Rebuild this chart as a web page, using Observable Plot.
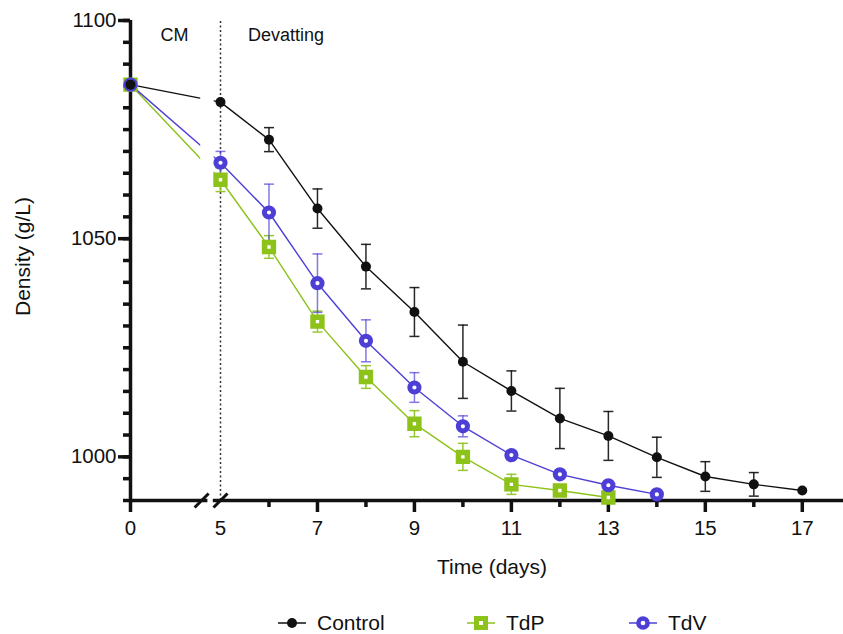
<!DOCTYPE html>
<html><head><meta charset="utf-8">
<script src="https://cdn.jsdelivr.net/npm/d3@7"></script>
<script src="https://cdn.jsdelivr.net/npm/@observablehq/plot@0.6"></script>
<style>
body{margin:0;background:#fff;font-family:"Liberation Sans",Arial,sans-serif;}
#legend{position:relative;width:843px;height:50px;}
.item{position:absolute;top:11px;height:44px;display:flex;align-items:center;font-size:21px;color:#111;}
.item svg{margin-right:11px;}
</style></head><body>
<div id="chart"></div><div id="legend"></div>
<script>
// ---- data ----
const seriesNames = ["Control", "TdP", "TdV"];
const seriesColors = ["#111111", "#8cc21a", "#4d3fd6"];

const controlDays = [0, 5, 6, 7, 8, 9, 10, 11, 12, 13, 14, 15, 16, 17];
const controlMean = [1085.3, 1081.3, 1072.7, 1056.9, 1043.6, 1033.2, 1021.8, 1015.1, 1008.8, 1004.8, 999.9, 995.5, 993.7, 992.3];
const controlSD   = [0, 0, 2.75, 4.5, 5.1, 5.6, 8.4, 4.6, 6.9, 5.6, 4.6, 3.4, 2.7, 0];

const tdpDays = [0, 5, 6, 7, 8, 9, 10, 11, 12, 13];
const tdpMean = [1085.3, 1063.5, 1048.1, 1031.0, 1018.3, 1007.6, 1000.0, 993.7, 992.3, 990.7];
const tdpSD   = [0, 2.7, 2.6, 2.4, 2.6, 3.0, 3.1, 2.3, 1.0, 0.5];

const tdvDays = [0, 5, 6, 7, 8, 9, 10, 11, 12, 13, 14];
const tdvMean = [1085.3, 1067.4, 1056.0, 1039.8, 1026.6, 1015.9, 1007.0, 1000.4, 996.0, 993.5, 991.4];
const tdvSD   = [0, 2.6, 6.5, 6.7, 4.8, 3.4, 2.4, 1.0, 0.8, 0.6, 0.5];

const xMajorTicks = [0, 7, 9, 11, 13, 15, 17];
const xMinorTicks = [6, 8, 10, 12, 14, 16];
const xTickLabels = [0, 5, 7, 9, 11, 13, 15, 17];
const yTickLabels = [1000, 1050, 1100];
const yMinorTicks = d3.range(990, 1101, 5);
const phaseLabels = ["CM", "Devatting"];

// ---- build table ----
function rowsOf(name, days, mean, sd) {
  return days.map((d, i) => ({series: name, day: d, mean: mean[i], sd: sd[i]}));
}
const rows = [
  ...rowsOf("Control", controlDays, controlMean, controlSD),
  ...rowsOf("TdP", tdpDays, tdpMean, tdpSD),
  ...rowsOf("TdV", tdvDays, tdvMean, tdvSD)
];
const Y_MIN = 990, Y_MAX = 1100, X_END = 17.85;
const LINE_GAP = [3.9, 4.65];
const AXIS_GAP = [4.3, 4.6];
const SLASHES = [3.95, 5.0];

const capSymbol = {draw(ctx, size) {const r = Math.sqrt(size / Math.PI); ctx.moveTo(-r, 0); ctx.lineTo(r, 0);}};
const slashSymbol = {draw(ctx, size) {const r = Math.sqrt(size / Math.PI); ctx.moveTo(-r, r); ctx.lineTo(r, -r);}};

const colorOf = Object.fromEntries(seriesNames.map((s, i) => [s, seriesColors[i]]));
const bars = rows.filter(d => d.sd > 0);

function errMarks(name, opacity) {
  const data = bars.filter(d => d.series === name);
  const c = colorOf[name];
  return [
    Plot.ruleX(data, {x: "day", y1: d => d.mean - d.sd, y2: d => d.mean + d.sd, stroke: c, strokeWidth: 1.5, strokeOpacity: opacity}),
    Plot.dot(data, {x: "day", y: d => d.mean + d.sd, symbol: capSymbol, r: 5, stroke: c, strokeWidth: 1.5, strokeOpacity: opacity, fill: "none"}),
    Plot.dot(data, {x: "day", y: d => d.mean - d.sd, symbol: capSymbol, r: 5, stroke: c, strokeWidth: 1.5, strokeOpacity: opacity, fill: "none"})
  ];
}

const AX = {stroke: "#111", strokeWidth: 3.5};

const chart = Plot.plot({
  width: 843,
  height: 590,
  marginLeft: 130,
  marginRight: 0,
  marginTop: 20,
  marginBottom: 90,
  style: {fontFamily: "Liberation Sans, Arial, sans-serif", color: "#111", background: "#fff"},
  x: {type: "linear", domain: [0, 5, X_END], range: [130, 220, 843], label: null},
  y: {domain: [Y_MIN, Y_MAX], label: null},
  color: {domain: seriesNames, range: seriesColors},
  marks: [
    Plot.ruleX([5], {y1: Y_MIN, y2: Y_MAX, stroke: "#333", strokeWidth: 1.5, strokeDasharray: "2,2.5"}),
    Plot.line(rows, {x: "day", y: "mean", z: "series", stroke: "series", strokeWidth: 1.4}),
    Plot.rect([0], {x1: () => LINE_GAP[0], x2: () => LINE_GAP[1], y1: () => Y_MIN + 1, y2: () => Y_MAX - 2, fill: "white"}),
    // axes
    Plot.ruleX([0], {y1: Y_MIN, y2: Y_MAX, ...AX}),
    Plot.ruleY([Y_MIN], {x1: () => 0, x2: () => AXIS_GAP[0], ...AX}),
    Plot.ruleY([Y_MIN], {x1: () => AXIS_GAP[1], x2: () => X_END, ...AX}),
    Plot.dot(SLASHES, {x: d => d, y: () => Y_MIN, symbol: slashSymbol, r: 7, stroke: "#111", strokeWidth: 3, fill: "none"}),
    Plot.axisY(yTickLabels, {tickSize: 12, ...AX, tickFormat: () => "", label: null}),
    Plot.axisY(yMinorTicks, {tickSize: 7, ...AX, tickFormat: () => "", label: null}),
    Plot.axisX(xMajorTicks, {tickSize: 12, ...AX, tickFormat: () => "", label: null}),
    Plot.axisX(xMinorTicks, {tickSize: 7, ...AX, tickFormat: () => "", label: null}),
    Plot.text(yTickLabels, {y: d => d, text: d => String(d), frameAnchor: "left", dx: -14, textAnchor: "end", lineAnchor: "middle", fontSize: 20.5, fill: "#111"}),
    Plot.text(xTickLabels, {x: d => d, text: d => String(d), frameAnchor: "bottom", dy: 28, lineAnchor: "middle", fontSize: 20.5, fill: "#111"}),
    Plot.text(["Time (days)"], {frameAnchor: "bottom", dx: 5, dy: 67, lineAnchor: "middle", fontSize: 21, fill: "#111"}),
    Plot.text(["Density (g/L)"], {frameAnchor: "left", dx: -107, dy: -4, rotate: -90, textAnchor: "middle", lineAnchor: "middle", fontSize: 21, fill: "#111"}),
    Plot.text(phaseLabels, {x: [2.45, 6.35], frameAnchor: "top", dy: 15, lineAnchor: "middle", fontSize: 18, fill: "#111"}),
    // error bars
    ...errMarks("Control", 0.9),
    ...errMarks("TdP", 0.9),
    ...errMarks("TdV", 0.7),
    // markers
    Plot.dot(rows.filter(d => d.series === "TdP"), {x: "day", y: "mean", symbol: "square", r: 5, fill: "white", stroke: colorOf.TdP, strokeWidth: 5.5}),
    Plot.dot(rows.filter(d => d.series === "TdV"), {x: "day", y: "mean", r: 4.6, fill: "white", stroke: colorOf.TdV, strokeWidth: 5}),
    Plot.dot(rows.filter(d => d.series === "Control"), {x: "day", y: "mean", r: 5, fill: colorOf.Control})
  ]
});
document.getElementById("chart").appendChild(chart);

// ---- legend ----
const legendPos = [278, 467, 629];
const legend = document.getElementById("legend");
seriesNames.forEach((name, i) => {
  const c = seriesColors[i];
  let marker;
  if (name === "Control") marker = `<circle cx="14" cy="10" r="5" fill="${c}"/>`;
  else if (name === "TdP") marker = `<rect x="9.5" y="5.5" width="9" height="9" fill="white" stroke="${c}" stroke-width="5"/>`;
  else marker = `<circle cx="14" cy="10" r="4.6" fill="white" stroke="${c}" stroke-width="4.5"/>`;
  const div = document.createElement("div");
  div.className = "item";
  div.style.left = legendPos[i] + "px";
  div.innerHTML = `<svg width="28" height="20"><line x1="0" x2="28" y1="10" y2="10" stroke="${c}" stroke-width="1.5"/>${marker}</svg><span>${name}</span>`;
  legend.appendChild(div);
});
</script>
</body></html>
